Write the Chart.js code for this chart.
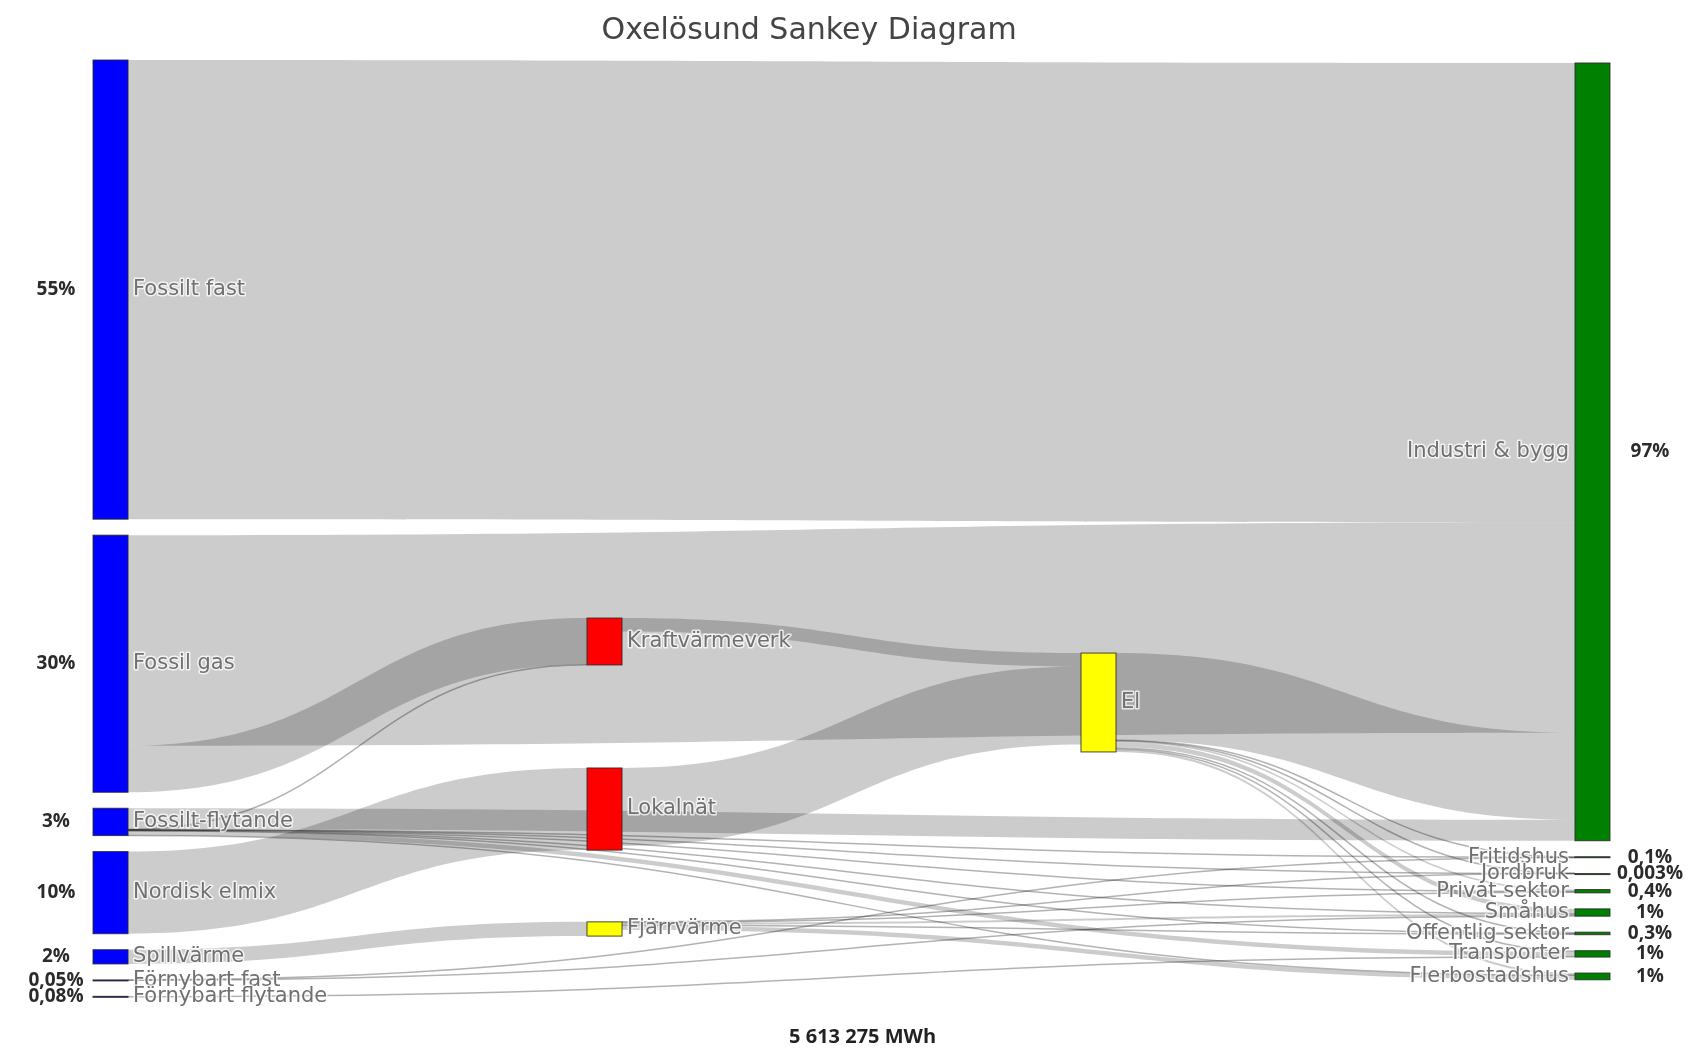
<!DOCTYPE html>
<html>
<head>
<meta charset="utf-8">
<title>Oxelösund Sankey Diagram</title>
<script src="https://cdn.jsdelivr.net/npm/chart.js@4.4.1/dist/chart.umd.min.js"></script>
<style>
  html, body { margin: 0; padding: 0; background: #fff; }
  #wrap { width: 1698px; height: 1048px; }
</style>
</head>
<body>
<div id="wrap"><canvas id="sankeyChart"></canvas></div>
<script>
// Noder (kolumn 0 = tillförsel, 3 = användning)
const nodeNames = [
  "Fossilt fast", "Fossil gas", "Fossilt-flytande", "Nordisk elmix", "Spillvärme",
  "Förnybart fast", "Förnybart flytande",
  "Kraftvärmeverk", "Lokalnät", "Fjärrvärme",
  "El",
  "Industri & bygg", "Fritidshus", "Jordbruk", "Privat sektor", "Småhus",
  "Offentlig sektor", "Transporter", "Flerbostadshus",
];
const nodeColumn = [0, 0, 0, 0, 0, 0, 0, 1, 1, 1, 2, 3, 3, 3, 3, 3, 3, 3, 3];
const pctLabels = [
  "55%", "30%", "3%", "10%", "2%", "0,05%", "0,08%",
  null, null, null, null,
  "97%", "0,1%", "0,003%", "0,4%", "1%", "0,3%", "1%", "1%",
];

// Flöden i MWh
const linkSource = [0, 1, 1, 2, 2, 2, 2, 2, 2, 2, 2, 2, 3, 4, 5, 5, 6, 7, 8, 9, 9, 9, 9, 9, 10, 10, 10, 10, 10, 10, 10, 10];
const linkTarget = [11, 11, 7, 11, 7, 12, 13, 14, 15, 16, 17, 18, 8, 9, 12, 15, 17, 10, 10, 13, 14, 15, 16, 18, 11, 12, 13, 14, 15, 16, 17, 18];
const linkValue = [
  3063000, 1405000, 310000, 140000, 3000, 300, 100, 3000, 3000, 2000, 30000, 1000,
  548000, 95000, 1000, 1800, 4500, 90000, 520000,
  30, 7000, 12000, 6000, 30000,
  580000, 4500, 70, 12000, 32000, 9000, 8000, 14000,
];
const totalMWh = 5613275;

// Layout och stil (inte data)
const nodeCenter = [null, null, null, null, null, null, null, 0.6206, 0.7994, 0.9274, 0.6857,
  null, null, null, null, null, null, null, null];
const columnShift = [0, 0, 0, 0.0032];   // förskjutning av kolumn, andel av höjden
const nodeColors = ["#0000ff", "#0000ff", "#0000ff", "#0000ff", "#0000ff", "#0000ff", "#0000ff",
  "#ff0000", "#ff0000", "#ffff00", "#ffff00",
  "#008000", "#008000", "#008000", "#008000", "#008000", "#008000", "#008000", "#008000"];
const NODE_W = 0.0709;   // nodbredd i kolumnenheter
const PAD = 0.019;       // avstånd mellan noder, andel av total tillförsel

// Nodstorlekar = max(in, ut)
const nodeCount = nodeNames.length;
const inSum = new Array(nodeCount).fill(0);
const outSum = new Array(nodeCount).fill(0);
linkValue.forEach((v, i) => {
  outSum[linkSource[i]] += v;
  inSum[linkTarget[i]] += v;
});
const nodeValue = inSum.map((v, i) => Math.max(v, outSum[i]));

const columns = [0, 1, 2, 3].map((c) => nodeNames.map((_, i) => i).filter((i) => nodeColumn[i] === c));
const supplyTotal = columns[0].reduce((s, i) => s + nodeValue[i], 0);
const pad = PAD * supplyTotal;
const yMax = Math.max(...columns.map((col) => col.reduce((s, i) => s + nodeValue[i], 0) + (col.length - 1) * pad));

const nodeTop = [];
columns.forEach((col, c) => {
  let cum = columnShift[c] * yMax;
  col.forEach((i) => {
    if (nodeCenter[i] != null) {
      nodeTop[i] = nodeCenter[i] * yMax - nodeValue[i] / 2;
    } else {
      nodeTop[i] = cum;
      cum += nodeValue[i] + pad;
    }
  });
});

// Placering av flöden på noderna
const links = linkValue.map((v, i) => ({ s: linkSource[i], t: linkTarget[i], v: v, i: i, sy: 0, ty: 0 }));
for (let n = 0; n < nodeCount; n++) {
  let off = nodeTop[n];
  links.filter((l) => l.s === n)
    .sort((a, b) => nodeTop[a.t] - nodeTop[b.t] || a.i - b.i)
    .forEach((l) => { l.sy = off; off += l.v; });
  off = nodeTop[n];
  links.filter((l) => l.t === n)
    .sort((a, b) => nodeTop[a.s] - nodeTop[b.s] || a.i - b.i)
    .forEach((l) => { l.ty = off; off += l.v; });
}

function formatMWh(v) {
  return String(v).replace(/\B(?=(\d{3})+(?!\d))/g, " ") + " MWh";
}

const sankeyPlugin = {
  id: "sankeyPlugin",
  afterDraw(chart) {
    const ctx = chart.ctx;
    const xs = chart.scales.x;
    const ys = chart.scales.y;
    const px = (c) => xs.getPixelForValue(c);
    const py = (v) => ys.getPixelForValue(v);
    ctx.save();

    // Flöden
    links.forEach((l) => {
      const x0 = px(nodeColumn[l.s] + NODE_W);
      const x1 = px(nodeColumn[l.t]);
      const xm = (x0 + x1) / 2;
      const a0 = py(l.sy), a1 = py(l.sy + l.v);
      const b0 = py(l.ty), b1 = py(l.ty + l.v);
      if (a1 - a0 < 1.5) {
        const m0 = (a0 + a1) / 2, m1 = (b0 + b1) / 2;
        ctx.beginPath();
        ctx.moveTo(x0, m0);
        ctx.bezierCurveTo(xm, m0, xm, m1, x1, m1);
        ctx.strokeStyle = "rgba(0,0,0,0.3)";
        ctx.lineWidth = 1.5;
        ctx.stroke();
      } else {
        ctx.beginPath();
        ctx.moveTo(x0, a0);
        ctx.bezierCurveTo(xm, a0, xm, b0, x1, b0);
        ctx.lineTo(x1, b1);
        ctx.bezierCurveTo(xm, b1, xm, a1, x0, a1);
        ctx.closePath();
        ctx.fillStyle = "rgba(0,0,0,0.2)";
        ctx.fill();
      }
    });

    // Noder
    for (let n = 0; n < nodeCount; n++) {
      const x0 = px(nodeColumn[n]);
      const w = px(nodeColumn[n] + NODE_W) - x0;
      const y0 = py(nodeTop[n]);
      const h = Math.max(py(nodeTop[n] + nodeValue[n]) - y0, 1);
      ctx.fillStyle = nodeColors[n];
      ctx.fillRect(x0, y0, w, h);
      ctx.strokeStyle = "rgba(40,40,40,0.85)";
      ctx.lineWidth = 1;
      ctx.strokeRect(x0, y0, w, h);
    }

    // Nodetiketter
    ctx.font = "21px 'DejaVu Sans'";
    ctx.textBaseline = "middle";
    ctx.lineJoin = "round";
    for (let n = 0; n < nodeCount; n++) {
      const yc = (py(nodeTop[n]) + py(nodeTop[n] + nodeValue[n])) / 2;
      let x;
      if (nodeColumn[n] === 3) {
        ctx.textAlign = "right";
        x = px(nodeColumn[n]) - 6;
      } else {
        ctx.textAlign = "left";
        x = px(nodeColumn[n] + NODE_W) + 5;
      }
      ctx.strokeStyle = "rgba(255,255,255,0.75)";
      ctx.lineWidth = 3;
      ctx.strokeText(nodeNames[n], x, yc);
      ctx.fillStyle = "#707070";
      ctx.fillText(nodeNames[n], x, yc);
    }

    // Procent
    ctx.font = "bold 19px 'Open Sans'";
    ctx.fillStyle = "#2b2b2b";
    ctx.textAlign = "center";
    for (let n = 0; n < nodeCount; n++) {
      if (!pctLabels[n]) continue;
      const yc = (py(nodeTop[n]) + py(nodeTop[n] + nodeValue[n])) / 2;
      const x = nodeColumn[n] === 0 ? px(0) - 37 : px(3 + NODE_W) + 40;
      ctx.fillText(pctLabels[n], x, yc);
    }

    // Rubrik och total
    ctx.font = "30px 'DejaVu Sans'";
    ctx.fillStyle = "#444";
    ctx.fillText("Oxelösund Sankey Diagram", chart.width * 0.4765, 31);
    ctx.font = "bold 20px 'Open Sans'";
    ctx.fillStyle = "#222";
    ctx.fillText(formatMWh(totalMWh), chart.width * 0.508, 1037);
    ctx.restore();
  },
};

new Chart(document.getElementById("sankeyChart"), {
  type: "scatter",
  data: { datasets: [{ data: [], pointRadius: 0 }] },
  options: {
    responsive: true,
    maintainAspectRatio: false,
    animation: false,
    layout: { padding: { top: 60, bottom: 51, left: 93, right: 88 } },
    plugins: {
      legend: { display: false },
      tooltip: { enabled: false },
    },
    scales: {
      x: { type: "linear", min: 0, max: 3 + NODE_W, display: false },
      y: { type: "linear", min: 0, max: yMax, reverse: true, display: false },
    },
  },
  plugins: [sankeyPlugin],
});
</script>
</body>
</html>
